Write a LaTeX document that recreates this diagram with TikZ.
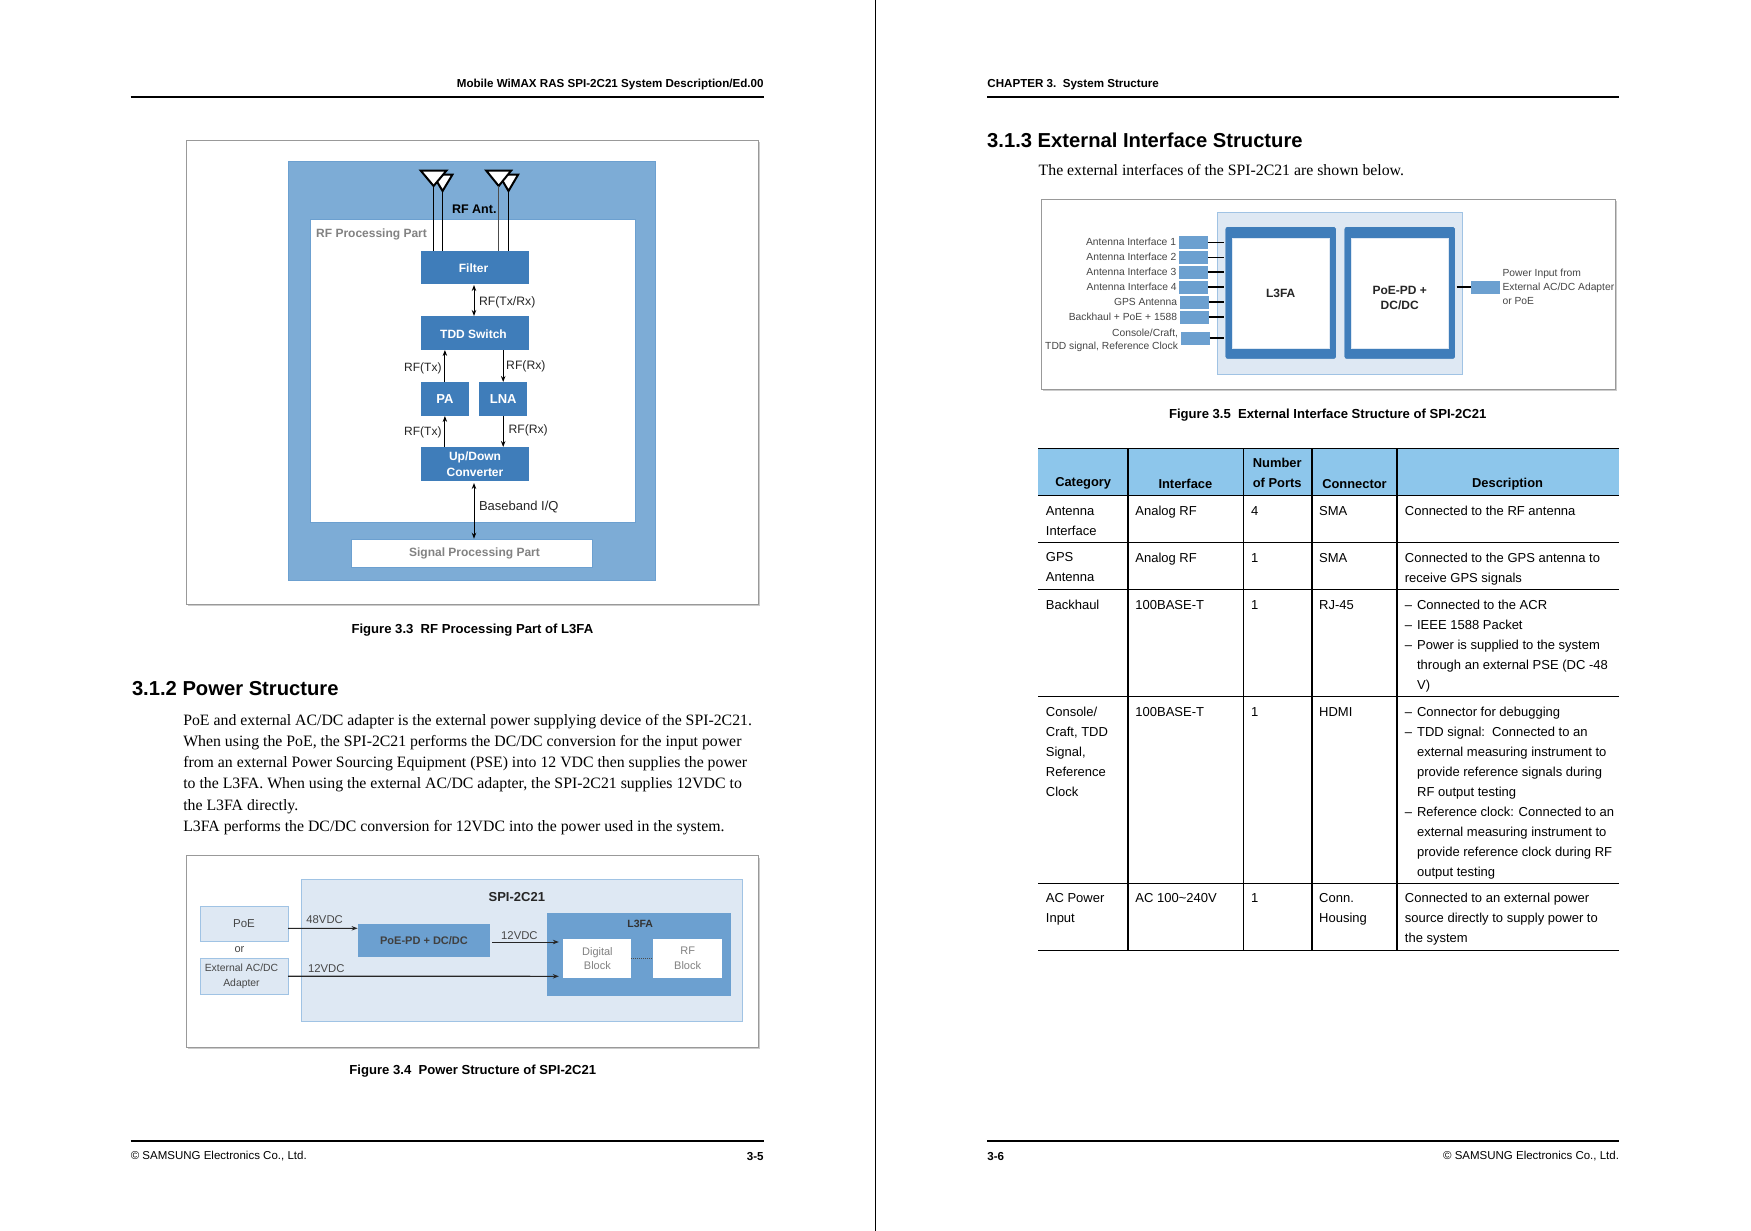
\documentclass[tikz,border=0pt]{standalone}
\usepackage{fontspec}
\setmainfont{Liberation Sans}
\newfontfamily\serifbody{Liberation Serif}
\usetikzlibrary{arrows.meta,positioning,calc}
\definecolor{softblue}{RGB}{222,232,243}
\definecolor{softedge}{RGB}{160,195,228}
\definecolor{midblue}{RGB}{125,172,214}
\definecolor{deepblue}{RGB}{63,125,186}
\definecolor{portblue}{RGB}{108,160,208}
\definecolor{headblue}{RGB}{141,198,235}
\definecolor{softgray}{RGB}{130,130,130}
\definecolor{labelgray}{RGB}{70,70,70}
\newcommand{\px}[1]{\fontsize{#1}{#1}\selectfont}
\newcommand{\dashitem}{\makebox[12.2pt][l]{--}}
\newcommand{\dashskip}{\hspace*{12.2pt}}

\begin{document}
\begin{tikzpicture}[
    x=1pt, y=-1pt,
    box/.style={rectangle, inner sep=0pt, outer sep=0pt, align=center},
    frame/.style={box, draw=black!40, line width=1pt, fill=white},
    shadow/.style={box, fill=black!20},
    block/.style={box, fill=deepblue, text=white, font=\bfseries\px{12}, minimum width=108.4pt},
    softbox/.style={box, fill=softblue, draw=softedge, line width=0.8pt},
    midbox/.style={box, fill=portblue},
    whitebox/.style={box, fill=white},
    port/.style={box, fill=portblue, minimum width=29pt, minimum height=13pt},
    arrow/.style={-{Stealth[length=6pt,width=4.5pt]}, line width=1pt},
    biarrow/.style={{Stealth[length=6pt,width=4.5pt]}-{Stealth[length=6pt,width=4.5pt]}, line width=1pt},
    lab/.style={inner sep=0pt, outer sep=0pt, font=\px{12.2}, text=black!85},
    flab/.style={inner sep=0pt, outer sep=0pt, font=\fontsize{10.3}{13.6}\selectfont, text=labelgray, align=right},
    caption/.style={inner sep=0pt, font=\bfseries\px{13.1}},
    head/.style={inner sep=0pt, font=\bfseries\px{11.6}},
    foot/.style={inner sep=0pt, font=\px{11.5}},
    title/.style={inner sep=0pt, font=\bfseries\px{20.2}},
    bodytext/.style={inner sep=0pt, align=left, font=\serifbody\fontsize{15.8}{21.2}\selectfont, execute at begin node=\strut},
    hcell/.style={inner sep=0pt, align=center, font=\bfseries\fontsize{12.9}{20.05}\selectfont},
    cell/.style={inner sep=0pt, anchor=north west, align=left, font=\fontsize{13}{20.05}\selectfont, execute at begin node=\strut},
    mcell/.style={cell, yshift=-4.5pt},
    rule/.style={line width=2pt}
  ]
  \path[use as bounding box, fill=white] (0,0) rectangle (1751,1231);

  \draw[line width=1.2pt] (875.7,0) coordinate (divtop) -- (875.7,1231) coordinate (divbot);

  % page headers and footers
  \node[head, anchor=east] (headl) at (763.8,84.6) {Mobile WiMAX RAS SPI-2C21 System Description/Ed.00};
  \node[head, anchor=west] (headr) at (987.2,84.6) {CHAPTER 3.\ \ System Structure};
  \draw[rule] (130.6,97) -- (763.8,97);
  \draw[rule] (987.2,97) -- (1619.2,97);
  \draw[rule] (130.6,1141.2) -- (763.8,1141.2);
  \draw[rule] (987.2,1141.2) -- (1619.2,1141.2);
  \node[foot, anchor=west] (footl) at (130.6,1155.8) {© SAMSUNG Electronics Co., Ltd.};
  \node[foot, anchor=east, font=\bfseries\px{11.6}] (pagel) at (763.8,1156.5) {3-5};
  \node[foot, anchor=west, font=\bfseries\px{11.6}] (pager) at (987.2,1156.5) {3-6};
  \node[foot, anchor=east] (footr) at (1619.2,1155.8) {© SAMSUNG Electronics Co., Ltd.};

  % figure 3.3
  \node[shadow, minimum width=572.3pt, minimum height=464pt] (shadowa) at (474,374.3) {};
  \node[frame, minimum width=572.3pt, minimum height=464pt] (framea) at (472.5,372.3) {};
  \node[box, fill=midblue, draw=portblue, minimum width=367.2pt, minimum height=419.6pt] (rfouter) at (472,370.7) {};
  \node[whitebox, draw=portblue, minimum width=325.1pt, minimum height=303.6pt] (rfinner) at (472.3,370.7) {};
  \node[box, anchor=west, font=\bfseries\px{12}, text=softgray] (rfpart) at (316.2,234) {RF Processing Part};
  \node[whitebox, draw=portblue, minimum width=240.8pt, minimum height=28.6pt] (sigpart) at (472,553) {};
  \node[box, font=\bfseries\px{12}, text=softgray] (siglab) at (474.5,553) {Signal Processing Part};
  \node[block, minimum height=33pt] (filter) at (475,267.5) {};
  \node[box, font=\bfseries\px{12}, text=white] (filterlab) at (473.5,268.5) {Filter};
  \node[block, minimum height=34pt, below=32pt of filter] (tdd) {};
  \node[box, font=\bfseries\px{12}, text=white] (tddlab) at (473.5,334) {TDD Switch};
  \node[block, minimum width=48.2pt, minimum height=34pt, below=32pt of tdd.south west, anchor=north west, font=\bfseries\px{13}] (pa) {PA};
  \node[block, minimum width=48pt, minimum height=34pt, right=10.2pt of pa, font=\bfseries\px{13}] (lna) {LNA};
  \node[block, minimum height=34pt, below=31pt of pa.south west, anchor=north west, font=\bfseries\fontsize{12}{16.5}\selectfont] (updown) {Up/Down\\Converter};
  \foreach \name/\xc/\hw/\ytop/\yapex in {ba/442.6/9.8/174.7/191, aa/433.6/12.8/170.7/186, bb/508.5/9.6/174.7/191, ab/498.7/12.4/170.7/186}{
    \draw[line width=2pt, fill=white, line join=miter] (\xc-\hw,\ytop) -- (\xc+\hw,\ytop) -- (\xc,\yapex) coordinate (ant\name) -- cycle;
  }
  \draw[line width=1pt] (antaa) -- (antaa |- filter.north);
  \draw[line width=1pt] (antba) -- (antba |- filter.north);
  \draw[line width=0.8pt, black!70] (antab) -- (antab |- filter.north);
  \draw[line width=1pt] (antbb) -- (antbb |- filter.north);
  \node[lab, font=\bfseries\px{12.5}, text=black] (rfant) at (474.3,209.3) {RF Ant.};
  \draw[biarrow] ([xshift=-1pt,yshift=-1pt]filter.south) -- ([xshift=-1pt]tdd.north);
  \draw[arrow] (pa.north) -- (pa.north |- tdd.south);
  \draw[arrow] (lna.north |- tdd.south) -- (lna.north);
  \draw[arrow] (pa.south |- updown.north) -- (pa.south);
  \draw[arrow] (lna.south) -- (lna.south |- updown.north);
  \draw[biarrow] ([xshift=-1pt,yshift=-2pt]updown.south) -- ([xshift=-1pt]updown.south |- sigpart.north);
  \node[lab, anchor=west] (lbtxrx) at (479.1,302.8) {RF(Tx/Rx)};
  \node[lab, anchor=east, font=\px{12}] (lbtxa) at (441.5,368) {RF(Tx)};
  \node[lab, anchor=west] (lbrxa) at (506.2,366.7) {RF(Rx)};
  \node[lab, anchor=east, font=\px{12}] (lbtxb) at (441.5,432.8) {RF(Tx)};
  \node[lab, anchor=west] (lbrxb) at (508.5,430.7) {RF(Rx)};
  \node[lab, anchor=west, font=\px{13}] (lbbase) at (479,507) {Baseband I/Q};
  \node[caption] (capa) at (472.4,630.5) {Figure 3.3\ \ RF Processing Part of L3FA};

  % section 3.1.2
  \node[title, anchor=west] (titlea) at (131.8,689) {3.1.2 Power Structure};
  \node[bodytext, anchor=north west] (bodya) at (183.1,714) {PoE and external AC/DC adapter is the external power supplying device of the SPI-2C21.\\
    When using the PoE, the SPI-2C21 performs the DC/DC conversion for the input power\\
    from an external Power Sourcing Equipment (PSE) into 12 VDC then supplies the power\\
    to the L3FA. When using the external AC/DC adapter, the SPI-2C21 supplies 12VDC to\\
    the L3FA directly.\\
    L3FA performs the DC/DC conversion for 12VDC into the power used in the system.};

  % figure 3.4
  \node[shadow, minimum width=571.9pt, minimum height=191.3pt] (shadowb) at (473.8,953.6) {};
  \node[frame, minimum width=571.9pt, minimum height=191.3pt] (frameb) at (472.3,951.6) {};
  \node[softbox, minimum width=440.3pt, minimum height=142pt] (spi) at (522,950.3) {};
  \node[lab, font=\bfseries\px{13}, text=black!85] (spilab) at (516.8,897) {SPI-2C21};
  \node[softbox, minimum width=88pt, minimum height=35.7pt, font=\px{11.5}, text=labelgray] (poe) at (244,923.9) {PoE};
  \node[lab, font=\px{11}, text=labelgray] (orlab) at (239.5,950) {or};
  \node[softbox, minimum width=88pt, minimum height=35.7pt, below=16.6pt of poe] (ext) {};
  \node[box, font=\fontsize{10.4}{14.5}\selectfont, text=labelgray] (extlab) at (241.5,976.2) {External AC/DC\\Adapter};
  \node[midbox, minimum width=132.8pt, minimum height=33pt, font=\bfseries\px{11}, text=black!75] (pd) at (424,940.2) {PoE-PD + DC/DC};
  \node[midbox, minimum width=184pt, minimum height=83pt] (l3fa) at (638.9,954.8) {};
  \node[lab, font=\bfseries\px{10.5}, text=black!80] (l3falab) at (640.2,923.7) {L3FA};
  \node[whitebox, minimum width=68.1pt, minimum height=38.4pt, font=\fontsize{11}{14.5}\selectfont, text=softgray] (digital) at (597.4,958.5) {Digital\\Block};
  \node[whitebox, minimum width=68.4pt, minimum height=38.4pt, right=22pt of digital, font=\fontsize{11}{14.5}\selectfont, text=softgray] (rfblock) {RF\\Block};
  \draw[densely dotted, line width=1pt, black!70] (digital) -- (rfblock);
  \draw[arrow, line width=0.9pt, black!85] ([yshift=-4.4pt]poe.east) -- ([yshift=11.9pt]pd.west);
  \draw[arrow, line width=0.9pt, black!85] ([xshift=2pt,yshift=-1.8pt]pd.east) -- ([xshift=-4.5pt,yshift=16.5pt]digital.west);
  \draw[arrow, line width=1.1pt, black!85] (ext.east) -- ([xshift=-4.5pt,yshift=-17.8pt]digital.west);
  \node[lab, anchor=west, font=\px{11.3}, text=labelgray] (lb48) at (306.4,920) {48VDC};
  \node[lab, font=\px{11.3}, text=labelgray] (lb12a) at (519.4,935.7) {12VDC};
  \node[lab, anchor=west, font=\px{11.3}, text=labelgray] (lb12b) at (308,968.3) {12VDC};
  \node[caption] (capb) at (472.8,1070.9) {Figure 3.4\ \ Power Structure of SPI-2C21};

  % section 3.1.3
  \node[title, anchor=west] (titleb) at (987,140.7) {3.1.3 External Interface Structure};
  \node[bodytext, anchor=west] (bodyb) at (1038.5,170.9) {The external interfaces of the SPI-2C21 are shown below.};

  % figure 3.5
  \node[shadow, minimum width=574pt, minimum height=190pt] (shadowc) at (1330,296.3) {};
  \node[frame, minimum width=574pt, minimum height=190pt] (framec) at (1328.5,294.3) {};
  \node[softbox, minimum width=245.3pt, minimum height=161.6pt] (unit) at (1340.2,293.5) {};
  \node[box, fill=deepblue, draw=white, rounded corners=2pt, minimum width=111pt, minimum height=132.3pt] (lfa) at (1280.7,292.9) {};
  \node[box, fill=white, draw=softblue, minimum width=97.6pt, minimum height=109.6pt, font=\bfseries\px{12}, text=black!85] (lfain) at (lfa.center) {L3FA};
  \node[box, fill=deepblue, draw=white, rounded corners=2pt, minimum width=111pt, minimum height=132.3pt, right=8pt of lfa] (pwr) {};
  \node[box, fill=white, draw=softblue, minimum width=97.6pt, minimum height=109.6pt] (pwrin) at (pwr.center) {};
  \node[box, font=\bfseries\fontsize{12}{15}\selectfont, text=black!85] (pwrlab) at (1399.7,297.6) {PoE-PD +\\DC/DC};
  \foreach \i/\xc/\yc/\txt in {1/1193/242.3/Antenna Interface 1, 2/1193.3/257.3/Antenna Interface 2, 3/1193.3/272/Antenna Interface 3, 4/1193.6/287/Antenna Interface 4, 5/1194/302/GPS Antenna, 6/1194/317/Backhaul + PoE + 1588}{
    \node[port] (port\i) at (\xc,\yc) {};
    \node[flab, left=2.5pt of port\i] (portlab\i) {\txt};
    \draw[line width=1.2pt] (port\i) -- ([xshift=-1.5pt]port\i -| lfa.west);
  }
  \node[port] (port7) at (1195,338) {};
  \node[flab, left=2.5pt of port7, yshift=-2.5pt] (portlab7) {Console/Craft,\\TDD signal, Reference Clock};
  \draw[line width=1.2pt] (port7) -- ([xshift=-1.5pt]port7 -| lfa.west);
  \node[port] (portp) at (1485.6,287) {};
  \draw[line width=1.2pt] ([xshift=1.5pt]portp -| pwr.east) -- (portp);
  \node[flab, align=left, anchor=west, font=\fontsize{10.3}{14.2}\selectfont] (portlabp) at (1502.6,286.7) {Power Input from\\External AC/DC Adapter\\or PoE};
  \node[caption] (capc) at (1327.7,414.8) {Figure 3.5\ \ External Interface Structure of SPI-2C21};

  % table
  \fill[headblue] (1038.4,448.3) rectangle (1618.6,495.7);
  \draw[line width=0.8pt] (1038.4,448.3) -- (1618.6,448.3);
  \foreach \yr in {495.7,542.3,589.3,696.3,883.5,950.3}{
    \draw[line width=0.8pt] (1038.4,\yr) -- (1618.6,\yr);
  }
  \foreach \xr in {1128,1312,1397}{
    \draw[line width=1.8pt] (\xr,448.3) -- (\xr,950.3);
  }
  \draw[line width=0.8pt] (1243.5,448.3) -- (1243.5,950.3);
  \node[hcell] (hcat) at (1083.2,483.7) {Category};
  \node[hcell] (hint) at (1185.4,483.7) {Interface};
  \node[hcell, anchor=south] (hnum) at (1277.2,488) {Number\\of Ports};
  \node[hcell] (hcon) at (1354.5,483.7) {Connector};
  \node[hcell] (hdes) at (1507.6,483.7) {Description};

  \node[mcell] (cata) at (1045.7,501.5) {Antenna\\Interface};
  \node[cell] (inta) at (1135.2,501.5) {Analog RF};
  \node[cell] (numa) at (1250.8,501.5) {4};
  \node[cell] (cona) at (1319,501.5) {SMA};
  \node[cell] (desa) at (1404.7,501.5) {Connected to the RF antenna};

  \node[mcell] (catb) at (1045.7,548.1) {GPS\\Antenna};
  \node[cell] (intb) at (1135.2,548.1) {Analog RF};
  \node[cell] (numb) at (1250.8,548.1) {1};
  \node[cell] (conb) at (1319,548.1) {SMA};
  \node[mcell] (desb) at (1404.7,548.1) {Connected to the GPS antenna to\\receive GPS signals};

  \node[cell] (catc) at (1045.7,595.1) {Backhaul};
  \node[cell] (intc) at (1135.2,595.1) {100BASE-T};
  \node[cell] (numc) at (1250.8,595.1) {1};
  \node[cell] (conc) at (1319,595.1) {RJ-45};
  \node[mcell] (desc) at (1404.7,595.1) {\dashitem Connected to the ACR\\\dashitem IEEE 1588 Packet\\\dashitem Power is supplied to the system\\\dashskip through an external PSE (DC -48\\\dashskip V)};

  \node[mcell] (catd) at (1045.7,702) {Console/\\Craft, TDD\\Signal,\\Reference\\Clock};
  \node[cell] (intd) at (1135.2,702) {100BASE-T};
  \node[cell] (numd) at (1250.8,702) {1};
  \node[cell] (cond) at (1319,702) {HDMI};
  \node[mcell] (desd) at (1404.7,702) {\dashitem Connector for debugging\\\dashitem TDD signal:\ \ Connected to an\\\dashskip external measuring instrument to\\\dashskip provide reference signals during\\\dashskip RF output testing\\\dashitem Reference clock: Connected to an\\\dashskip external measuring instrument to\\\dashskip provide reference clock during RF\\\dashskip output testing};

  \node[mcell] (cate) at (1045.7,888.6) {AC Power\\Input};
  \node[cell] (inte) at (1135.2,888.6) {AC 100\textasciitilde 240V};
  \node[cell] (nume) at (1250.8,888.6) {1};
  \node[mcell] (cone) at (1319,888.6) {Conn.\\Housing};
  \node[mcell] (dese) at (1404.7,888.6) {Connected to an external power\\source directly to supply power to\\the system};
\end{tikzpicture}
\end{document}
